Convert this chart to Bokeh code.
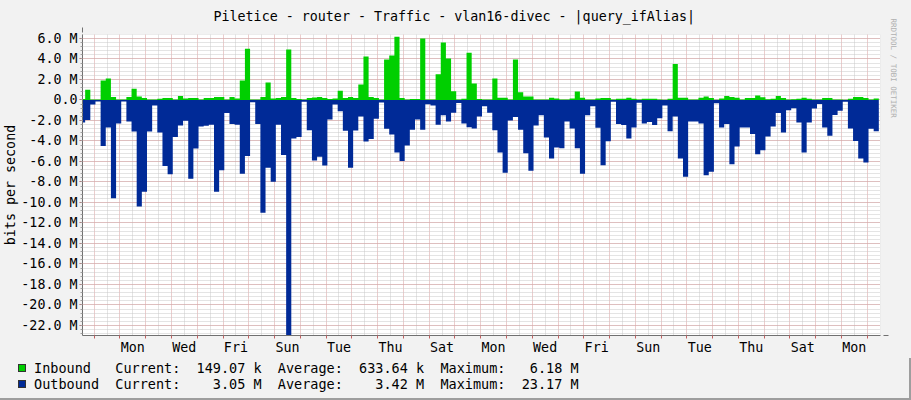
import numpy as np
from bokeh.plotting import figure
from bokeh.layouts import column
from bokeh.models import FixedTicker, Arrow, NormalHead, Title, Div, GlobalInlineStyleSheet
from bokeh.embed import file_html
from bokeh.resources import INLINE

# ---------------- data ----------------
title_text = "Piletice - router - Traffic - vlan16-divec - |query_ifAlias|"
y_title = "bits per second"
watermark = "RRDTOOL / TOBI OETIKER"

# one sample every 0.2 day (4.8 h); first sample begins 0.55 day before the first Sunday 00:00
first_sample_day = -0.55
sample_step_day = 0.2

# bits per second, in M
inbound_M = [
    0.1, 1.0, 0.05,
    0.05, 1.9, 2.1, 0.3, 0.05, 0.05, 0.3, 1.1, 0.35, 0.2,
    0.05, 0.05, 0.13, 0.2, 0.2, 0.05, 0.4, 0.15, 0.2, 0.2,
    0.05, 0.2, 0.2, 0.3, 0.3, 0.05, 0.3, 0.15, 1.9, 5.0,
    0.05, 0.05, 0.3, 1.7, 0.15, 0.2, 0.3, 4.93, 0.2, 0.1,
    0.05, 0.2, 0.25, 0.3, 0.2, 0.1, 0.15, 0.9, 0.2, 0.3,
    0.2, 1.5, 4.25, 0.3, 0.2, 0.05, 3.95, 4.35, 6.18, 0.2,
    0.05, 0.1, 0.1, 6.0, 0.05, 0.05, 2.5, 5.6, 4.05, 0.85,
    0.05, 0.13, 4.6, 1.6, 0.1, 0.05, 0.05, 2.1, 0.23, 0.23,
    0.05, 3.95, 0.75, 0.33, 0.33, 0.05, 0.05, 0.05, 0.22, 0.15,
    0.05, 0.05, 0.15, 0.82, 0.23, 0.05, 0.05, 0.15, 0.2, 0.2,
    0.05, 0.13, 0.13, 0.23, 0.13, 0.05, 0.13, 0.13, 0.13, 0.05,
    0.03, 0.13, 3.5, 0.23, 0.23, 0.05, 0.05, 0.23, 0.33, 0.2,
    0.03, 0.15, 0.4, 0.3, 0.23, 0.05, 0.2, 0.2, 0.43, 0.26,
    0.07, 0.13, 0.4, 0.2, 0.05, 0.07, 0.13, 0.23, 0.13, 0.05,
    0.05, 0.2, 0.2, 0.05, 0.05, 0.03, 0.13, 0.3, 0.3, 0.2,
    0.05, 0.15,
]
outbound_M = [
    2.2, 1.95, 0.45,
    0.15, 4.48, 2.68, 9.6, 2.29, 0.15, 2.09, 3.07, 10.4, 8.95,
    3.07, 0.55, 3.17, 6.44, 7.25, 3.6, 2.5, 2.03, 7.68, 4.74,
    2.58, 2.52, 2.42, 8.95, 6.86, 1.27, 2.35, 2.42, 7.19, 5.46,
    0.23, 2.35, 11.0, 6.6, 7.97, 2.42, 5.36, 23.17, 3.75, 3.6,
    0.16, 2.95, 5.9, 5.55, 6.4, 1.9, 0.45, 1.1, 3.0, 6.6,
    2.97, 1.62, 4.06, 3.8, 1.83, 0.25, 2.8, 3.37, 5.13, 5.95,
    4.45, 2.9, 1.9, 2.9, 0.42, 0.55, 2.42, 1.5, 2.09, 1.25,
    0.3, 2.29, 2.65, 2.77, 1.6, 0.6, 1.25, 2.95, 5.13, 7.1,
    2.0, 1.65, 2.9, 5.2, 6.9, 2.5, 1.5, 3.66, 5.72, 4.64,
    4.72, 2.1, 2.77, 4.72, 7.19, 1.5, 0.6, 2.7, 6.37, 4.03,
    0.16, 2.35, 2.43, 3.75, 2.68, 0.26, 2.29, 2.14, 2.45, 1.78,
    0.55, 3.05, 1.6, 5.72, 7.48, 2.1, 2.1, 2.29, 7.35, 7.0,
    0.33, 2.68, 2.35, 6.27, 4.54, 2.68, 2.68, 3.33, 5.29, 4.9,
    3.56, 2.58, 1.27, 3.17, 1.0, 0.8, 2.19, 5.13, 2.19, 0.82,
    0.39, 2.68, 3.5, 1.47, 1.05, 0.16, 2.78, 3.99, 5.72, 6.1,
    2.8, 3.05,
]

x_label_days = [1.5, 3.5, 5.5, 7.5, 9.5, 11.5, 13.5, 15.5, 17.5, 19.5, 21.5, 23.5, 25.5, 27.5, 29.5]
x_label_names = ["Mon", "Wed", "Fri", "Sun", "Tue", "Thu", "Sat", "Mon", "Wed", "Fri",
                 "Sun", "Tue", "Thu", "Sat", "Mon"]
y_tick_values = [-22, -20, -18, -16, -14, -12, -10, -8, -6, -4, -2, 0, 2, 4, 6]
y_tick_labels = ["-22.0 M", "-20.0 M", "-18.0 M", "-16.0 M", "-14.0 M", "-12.0 M", "-10.0 M",
                 "-8.0 M", "-6.0 M", "-4.0 M", "-2.0 M", "0.0", "2.0 M", "4.0 M", "6.0 M"]

series_names = ["Inbound", "Outbound"]
series_current = ["149.07 k", "  3.05 M"]
series_average = ["633.64 k", "  3.42 M"]
series_maximum = [" 6.18 M", "23.17 M"]

# ---------------- style ----------------
FONT = "DejaVu Sans Mono"
FS = "13.33px"
GREEN = "#00CF00"
BLUE = "#002A97"
BG = "#F2F2F2"
MGRID = "#D99A9A"
GRID = "#C8C8C8"
AXIS = "#707070"
ARROWC = "#800000"
SHADE = "#9E9E9E"

W = 911
H_MAIN = 358
H_LEG = 42
FL, FT, FR, FB = 81, 34, 880, 335   # frame edges in pixels

p = figure(width=W, height=H_MAIN, output_backend="svg", toolbar_location=None,
           x_range=(-0.453, 30.515), y_range=(-22.98, 6.39),
           min_border_left=FL, min_border_right=W - FR, min_border_top=FT,
           min_border_bottom=H_MAIN - FB,
           background_fill_color="white", border_fill_color=BG,
           outline_line_color=None, title=title_text)
p.stylesheets = [GlobalInlineStyleSheet(css="body { background: %s; }" % BG)]

# title
p.title.align = "left"
p.title.offset = 131
p.title.vertical_align = "top"
p.title.standoff = 17
p.title.text_font = FONT
p.title.text_font_size = FS
p.title.text_font_style = "normal"
p.title.text_color = "black"

# watermark on the right
p.add_layout(Title(text=watermark, text_font=FONT, text_font_size="7.5px",
                   text_color="#B0B0B0", text_font_style="normal", align="left",
                   vertical_align="top", offset=-16, standoff=12), "right")

# ---- data areas (step shaped) ----
n = len(inbound_M)
edges = first_sample_day + sample_step_day * np.arange(n + 1)
xs = np.repeat(edges, 2)[1:-1]
y_in = np.repeat(np.array(inbound_M), 2)
y_out = -np.repeat(np.array(outbound_M), 2)
p.varea(x=xs, y1=0, y2=y_in, fill_color=GREEN)
p.varea(x=xs, y1=0, y2=y_out, fill_color=BLUE)

# ---- axes ----
xa = p.xaxis[0]
xa.ticker = FixedTicker(ticks=x_label_days, minor_ticks=list(range(0, 31)))
xa.major_label_overrides = {d: s for d, s in zip(x_label_days, x_label_names)}
xa.major_tick_out = 0
xa.major_tick_in = 0
xa.minor_tick_out = 3
xa.minor_tick_in = 0
xa.minor_tick_line_color = "#C06060"
xa.axis_line_color = AXIS
xa.major_label_standoff = 1
xa.major_label_text_font = FONT
xa.major_label_text_font_size = FS
xa.major_label_text_color = "black"

ya = p.yaxis[0]
ya.ticker = FixedTicker(ticks=y_tick_values,
                        minor_ticks=[round(-22.8 + 0.4 * i, 1) for i in range(74)])
ya.major_label_overrides = {v: s for v, s in zip(y_tick_values, y_tick_labels)}
ya.major_tick_out = 3
ya.major_tick_in = 0
ya.minor_tick_out = 2
ya.minor_tick_in = 0
ya.major_tick_line_color = "#C06060"
ya.minor_tick_line_color = "#A0A0A0"
ya.axis_line_color = AXIS
ya.major_label_standoff = 2
ya.major_label_text_font = FONT
ya.major_label_text_font_size = FS
ya.major_label_text_color = "black"
ya.axis_label = y_title
ya.axis_label_standoff = 0
ya.axis_label_text_font = FONT
ya.axis_label_text_font_size = FS
ya.axis_label_text_font_style = "normal"
ya.axis_label_text_color = "black"

# ---- grids ----
xg = p.xgrid[0]
xg.ticker = FixedTicker(ticks=list(range(0, 31)), minor_ticks=[d + 0.5 for d in range(-1, 31)])
xg.grid_line_color = MGRID
xg.grid_line_dash = "1 1"
xg.minor_grid_line_color = GRID
xg.minor_grid_line_dash = "1 1"
yg = p.ygrid[0]
yg.grid_line_color = MGRID
yg.grid_line_dash = "1 1"
yg.minor_grid_line_color = GRID
yg.minor_grid_line_dash = "1 1"

# ---- arrows at axis ends (screen units, relative to the frame) ----
p.add_layout(Arrow(end=NormalHead(size=5, fill_color=ARROWC, line_color=ARROWC),
                   x_start=FR - FL, y_start=0, x_end=FR - FL + 7, y_end=0,
                   start_units="screen", end_units="screen", line_color=AXIS))
p.add_layout(Arrow(end=NormalHead(size=5, fill_color=ARROWC, line_color=ARROWC),
                   x_start=0, y_start=FB - FT, x_end=0, y_end=FB - FT + 7,
                   start_units="screen", end_units="screen", line_color=AXIS))

# ---- legend strip (rrdtool-style GPRINT lines) ----
swatch_colors = [GREEN, BLUE]
parts = ['<div style="position:relative;box-sizing:border-box;width:%dpx;height:%dpx;background:%s;'
         'border-bottom:2px solid %s;border-right:2px solid %s;'
         "font-family:'%s',monospace;font-size:13.5px;color:#000;\">" % (W, H_LEG, BG, SHADE, SHADE, FONT)]
for i in range(len(series_names)):
    top = 2 + 16 * i
    parts.append('<span style="position:absolute;left:18px;top:%dpx;width:8px;height:8px;'
                 'background:%s;border:1px solid #333;"></span>' % (top + 4, swatch_colors[i]))
    row = (series_names[i].ljust(10) + "Current:  " + series_current[i] + "  Average:  "
           + series_average[i] + "  Maximum:  " + series_maximum[i])
    parts.append('<span style="position:absolute;left:34px;top:%dpx;line-height:16px;'
                 'white-space:pre;">%s</span>' % (top, row))
parts.append("</div>")
legend_div = Div(text="".join(parts), width=W, height=H_LEG, margin=0)

layout = column(p, legend_div, spacing=0)
open("out.html", "w").write(file_html(layout, INLINE))
